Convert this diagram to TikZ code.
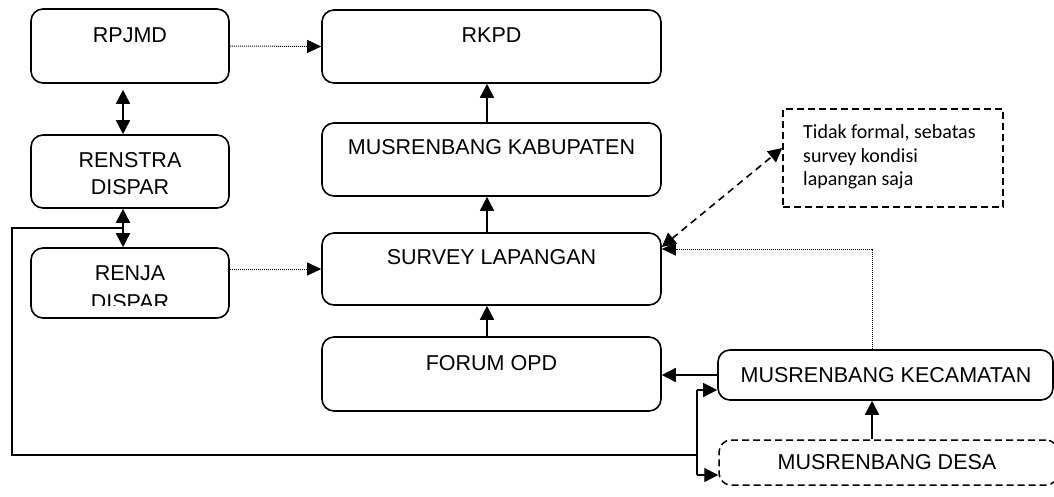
\documentclass[tikz,border=0pt]{standalone}
\usepackage{fontspec}
\setmainfont{Liberation Sans}
\newfontfamily\notefont{Carlito}
\usetikzlibrary{arrows.meta}
\begin{document}
\begin{tikzpicture}[x=1pt,y=-1pt,
  box/.style={draw, line width=1.6pt, rounded corners=12pt, inner sep=0pt},
  dbox/.style={box, dash pattern=on 7pt off 4pt, line width=1.5pt},
  nbox/.style={draw, line width=1.5pt, dash pattern=on 7pt off 4pt, inner sep=0pt},
  lbl/.style={font=\fontsize{21.5}{27}\selectfont, align=center, inner sep=0pt},
  arr/.style={line width=1.6pt, -{Triangle[length=14pt,width=14pt]}},
  darr/.style={line width=1.6pt, {Triangle[length=14pt,width=14pt]}-{Triangle[length=14pt,width=14pt]}},
  dotarr/.style={line width=1pt, dash pattern=on 1pt off 1pt, -{Triangle[length=14pt,width=13pt]}},
  dotline/.style={line width=1pt, dash pattern=on 1pt off 1pt},
  loopline/.style={line width=1.2pt}]
\useasboundingbox (0,0) rectangle (1054,496);

% boxes
\node[box, minimum width=198pt, minimum height=74pt] (rpjmd) at (130,46) {};
\node[box, minimum width=198pt, minimum height=73pt] (renstra) at (130,171.5) {};
\node[box, minimum width=198pt, minimum height=70pt] (renja) at (130,283) {};
\node[box, minimum width=339pt, minimum height=73pt] (rkpd) at (491.5,46.5) {};
\node[box, minimum width=339pt, minimum height=73pt] (kab) at (491.5,159.5) {};
\node[box, minimum width=339pt, minimum height=72pt] (survey) at (491.5,269) {};
\node[box, minimum width=339pt, minimum height=74pt] (forum) at (491.5,374) {};
\node[box, minimum width=335pt, minimum height=50pt] (kec) at (885.5,375) {};
\node[dbox, minimum width=339pt, minimum height=45pt] (desa) at (888.5,462.5) {};
\node[nbox, minimum width=220pt, minimum height=98pt] (note) at (893,158) {};

% texts
\node[lbl] (trpjmd) at (130,35) {RPJMD};
\node[lbl] (trenstra) at (130,173.5) {RENSTRA\\DISPAR};
\begin{scope}
  \clip (31,240) rectangle (229,305.5);
  \node[lbl, font=\fontsize{21.5}{29}\selectfont] (trenja) at (130,288) {RENJA\\DISPAR};
\end{scope}
\node[lbl] (trkpd) at (491.5,35) {RKPD};
\node[lbl] (tkab) at (491.5,147) {MUSRENBANG KABUPATEN};
\node[lbl] (tsurvey) at (491.5,257) {SURVEY LAPANGAN};
\node[lbl] (tforum) at (491.5,363) {FORUM OPD};
\node[lbl] (tkec) at (886,375) {MUSRENBANG KECAMATAN};
\node[lbl] (tdesa) at (887,462) {MUSRENBANG DESA};
\node[anchor=west, align=left, inner sep=0pt, font=\notefont\fontsize{20}{23.5}\selectfont] (tnote) at (803,157)
  {Tidak formal, sebatas\\survey kondisi\\lapangan saja};

% helper coordinates
\coordinate (lx) at (123,0);
\coordinate (mx) at (487,0);
\coordinate (dx) at (872,0);
\coordinate (j) at (123,228);
\coordinate (lp1) at (12,228);
\coordinate (lp2) at (12,455);
\coordinate (br) at (697,455);
\coordinate (brtop) at (697,390);
\coordinate (brbot) at (697,475);
\coordinate (dtop) at (872,249);

% connectors
\draw[darr] ([yshift=-6pt]rpjmd.south -| lx) -- (renstra.north -| lx);
\draw[darr] (renstra.south -| lx) -- (renja.north -| lx);
\draw[dotarr] (rpjmd.east) -- (rkpd.west);
\draw[dotarr] ([yshift=14pt]renja.east) -- ([yshift=14pt]renja.east -| survey.west);
\draw[arr] (kab.north -| mx) -- (rkpd.south -| mx);
\draw[arr] (survey.north -| mx) -- (kab.south -| mx);
\draw[arr] (forum.north -| mx) -- (survey.south -| mx);
\draw[arr] (kec.west) -- (kec.west -| forum.east);
\draw[arr] (desa.north -| dx) -- (kec.south -| dx);
\draw[dotline] (kec.north -| dx) -- (dtop);
\draw[dotarr] (dtop) -- (dtop -| survey.east);
\draw[darr, dash pattern=on 7pt off 5pt] ([yshift=22pt]survey.east) -- ([yshift=10pt]note.west);

% loop from renstra/renja link to kecamatan and desa
\draw[loopline] (j) -- (lp1) -- (lp2) -- (br);
\draw[loopline] (brtop) -- (brbot);
\draw[arr, line width=1.2pt] (brtop) -- (brtop -| kec.west);
\draw[arr, line width=1.2pt] (brbot) -- (brbot -| desa.west);
\end{tikzpicture}
\end{document}
